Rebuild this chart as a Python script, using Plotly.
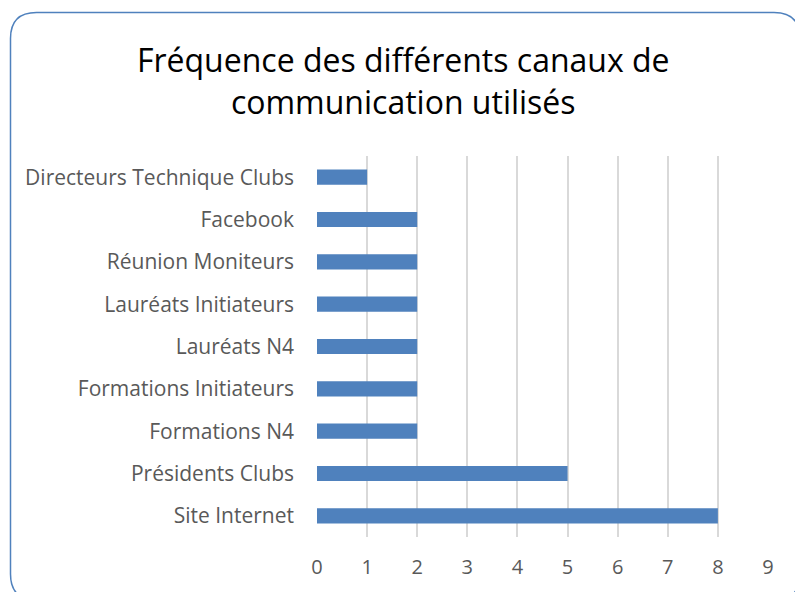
import plotly.graph_objects as go

categories = ["Site Internet", "Présidents Clubs", "Formations N4", "Formations Initiateurs",
              "Lauréats N4", "Lauréats Initiateurs", "Réunion Moniteurs", "Facebook",
              "Directeurs Technique Clubs"]
values = [8, 5, 2, 2, 2, 2, 2, 2, 1]
x_ticks = list(range(0, 10))
title_text = "Fréquence des différents canaux de<br>communication utilisés"

W, H = 795, 592
ML, MR, MT, MB = 317, 27, 156, 55
PW, PH = W - ML - MR, H - MT - MB

def px(x):
    return (x - ML) / PW

def py(y):
    return (H - MB - y) / PH

# rounded border (pixel coordinates converted to paper)
bx0, by0, bx1, by1, r = 10.5, 12.5, 800, 600, 26
path = (f"M {px(bx0 + r)},{py(by0)} L {px(bx1 - r)},{py(by0)} "
        f"Q {px(bx1)},{py(by0)} {px(bx1)},{py(by0 + r)} "
        f"L {px(bx1)},{py(by1 - r)} Q {px(bx1)},{py(by1)} {px(bx1 - r)},{py(by1)} "
        f"L {px(bx0 + r)},{py(by1)} Q {px(bx0)},{py(by1)} {px(bx0)},{py(by1 - r)} "
        f"L {px(bx0)},{py(by0 + r)} Q {px(bx0)},{py(by0)} {px(bx0 + r)},{py(by0)} Z")

fig = go.Figure(go.Bar(
    x=values, y=categories, orientation="h",
    marker=dict(color="#4F81BD", line=dict(width=0)),
))

fig.update_layout(
    width=W, height=H,
    margin=dict(l=ML, r=MR, t=MT, b=MB),
    paper_bgcolor="white", plot_bgcolor="white",
    bargap=0.64,
    showlegend=False,
    font=dict(family="Open Sans, sans-serif", color="#595959"),
    title=dict(text=title_text, xref="paper", x=px((bx0 + bx1) / 2 - 2), xanchor="center",
               y=1 - 72 / H, yanchor="middle",
               font=dict(size=32, color="#000000", family="Open Sans, sans-serif")),
    shapes=[dict(type="path", xref="paper", yref="paper", path=path,
                 line=dict(color="#4F81BD", width=1.5), layer="above")],
)

fig.update_xaxes(range=[0, 9], tickvals=x_ticks, showgrid=True, gridcolor="#D9D9D9",
                 gridwidth=1.5, zeroline=False, showline=False,
                 tickfont=dict(size=20, color="#595959"), ticks="",
                 ticklabelstandoff=16)
fig.update_yaxes(showgrid=False, zeroline=False, showline=False, ticks="",
                 tickfont=dict(size=21, color="#595959"), ticklabelstandoff=22,
                 categoryorder="array", categoryarray=categories)

fig.write_html("out.html", config={"displayModeBar": False},
               post_script="document.body.style.margin='0px';document.body.style.overflow='hidden';")
